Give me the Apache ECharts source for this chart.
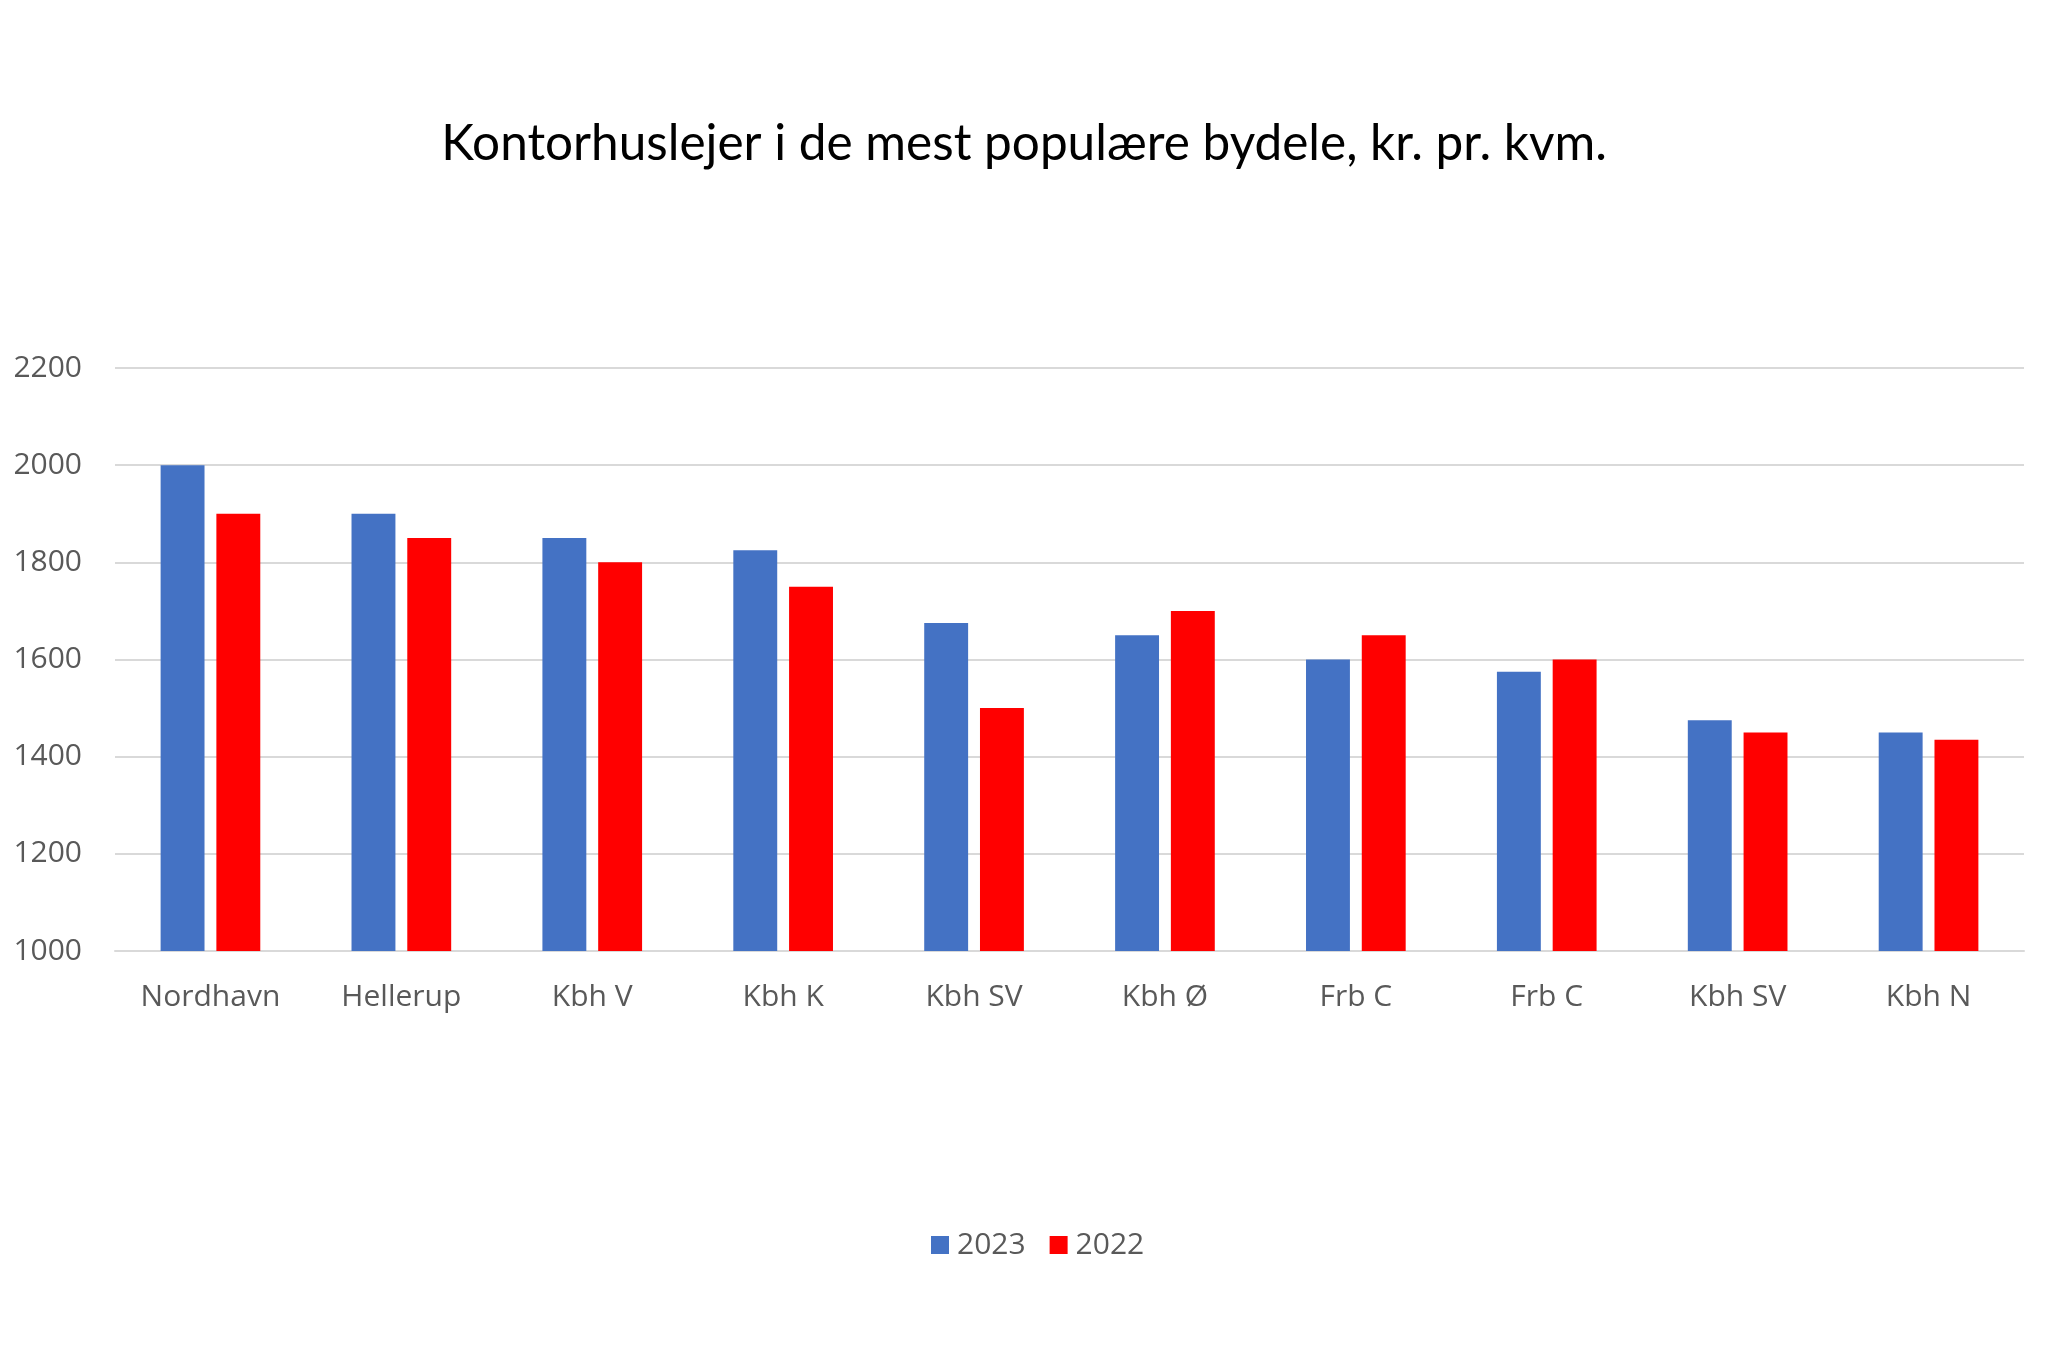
<!DOCTYPE html>
<html>
<head>
<meta charset="utf-8">
<script src="https://cdn.jsdelivr.net/npm/echarts@6/dist/echarts.min.js"></script>
<style>html,body{margin:0;padding:0;background:#fff}#c{width:2048px;height:1368px}</style>
</head>
<body>
<div id="c"></div>
<script>
const categories = ['Nordhavn','Hellerup','Kbh V','Kbh K','Kbh SV','Kbh Ø','Frb C','Frb C','Kbh SV','Kbh N'];
const values2023 = [2000,1900,1850,1825,1675,1650,1600,1575,1475,1450];
const values2022 = [1900,1850,1800,1750,1500,1700,1650,1600,1450,1435];
const yTicks = [1000,1200,1400,1600,1800,2000,2200];
const titleText = 'Kontorhuslejer i de mest populære bydele, kr. pr. kvm.';

const chart = echarts.init(document.getElementById('c'), null, {renderer:'canvas'});
chart.setOption({
  animation:false,
  backgroundColor:'#ffffff',
  title:{
    text:titleText, left:'center', top:114,
    textStyle:{fontFamily:'Lato', fontWeight:'normal', fontSize:49.5, color:'#000000'}
  },
  legend:{
    data:['2023','2022'], left:926, top:1225, itemWidth:18, itemHeight:18, itemGap:24,
    icon:'rect',
    textStyle:{fontFamily:'Open Sans', fontSize:30, color:'#595959', padding:[0,0,0,3]}
  },
  grid:{left:115, right:24, top:368, bottom:417},
  xAxis:{
    type:'category', data:categories,
    axisLine:{show:true, lineStyle:{color:'#d9d9d9', width:2}},
    axisTick:{show:false},
    axisLabel:{fontFamily:'Open Sans', fontSize:30, color:'#595959', margin:31}
  },
  yAxis:{
    type:'value', min:yTicks[0], max:yTicks[yTicks.length-1], interval:200,
    axisLine:{show:false}, axisTick:{show:false},
    axisLabel:{fontFamily:'Open Sans', fontSize:30, color:'#595959', margin:33, formatter:v=>String(v)},
    splitLine:{lineStyle:{color:'#d9d9d9', width:2}}
  },
  series:[
    {name:'2023', type:'bar', data:values2023, barWidth:'23%', barGap:'27%', itemStyle:{color:'#4472c4'}},
    {name:'2022', type:'bar', data:values2022, barWidth:'23%', barGap:'27%', itemStyle:{color:'#ff0000'}}
  ]
});
</script>
</body>
</html>
